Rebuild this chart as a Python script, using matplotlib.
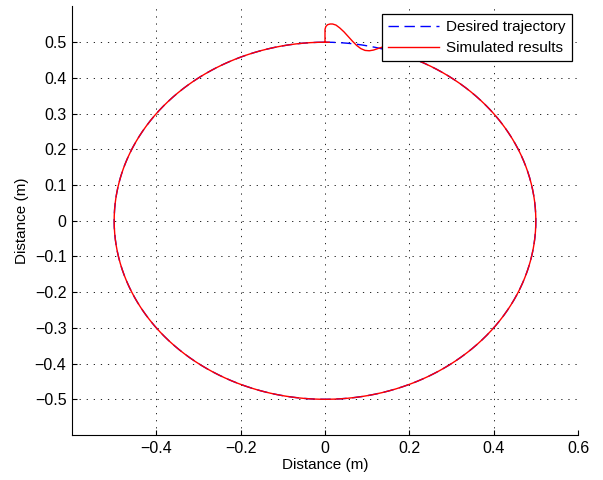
import numpy as np
import matplotlib
matplotlib.use("Agg")
import matplotlib.pyplot as plt

plt.rcParams['font.family'] = ['Liberation Sans', 'DejaVu Sans']
plt.rcParams['font.size'] = 11

# Desired trajectory: circle centred at origin
radius = 0.5
center_x, center_y = 0.0, 0.0

# Start-up transient of the simulated path (x, y in m)
trans_x = [0.0, 0.0, 0.002, 0.006, 0.012, 0.018, 0.026, 0.035, 0.045, 0.055,
           0.065, 0.075, 0.085, 0.095, 0.105, 0.115, 0.125, 0.135, 0.145,
           0.160, 0.180, 0.200, 0.222]
trans_y = [0.500, 0.536, 0.544, 0.549, 0.551, 0.551, 0.548, 0.540, 0.529, 0.516,
           0.503, 0.491, 0.482, 0.477, 0.476, 0.478, 0.482, 0.486, 0.488,
           0.487, 0.479, 0.464, 0.448]

xticks = [-0.4, -0.2, 0, 0.2, 0.4, 0.6]
yticks = [-0.5, -0.4, -0.3, -0.2, -0.1, 0, 0.1, 0.2, 0.3, 0.4, 0.5]

# desired circle (clockwise from the top)
th = np.linspace(0, 2 * np.pi, 721)
des_x = center_x + radius * np.sin(th)
des_y = center_y + radius * np.cos(th)

# simulated: transient then it follows the circle back to the top
th0 = np.arcsin(trans_x[-1] / radius)
th_rest = np.linspace(th0, 2 * np.pi + 0.02, 700)
sim_x = np.concatenate([trans_x, center_x + radius * np.sin(th_rest)])
sim_y = np.concatenate([trans_y, center_y + radius * np.cos(th_rest)])

fig = plt.figure(figsize=(6.03, 4.8), dpi=100)
ax = fig.add_axes([72 / 603, 45 / 480, 506 / 603, 428.5 / 480])

ax.plot(des_x, des_y, color='#0000ff', linestyle=(0, (7.5, 4)), linewidth=1.0,
        label='Desired trajectory')
ax.plot(sim_x, sim_y, color='#ff0000', linewidth=1.0, label='Simulated results')

ax.set_xlim(-0.6, 0.6)
ax.set_ylim(-0.6, 0.6)
ax.set_xticks(xticks)
ax.set_yticks(yticks)
ax.set_xticklabels([f"{v:g}".replace('-', '\u2212') for v in xticks])
ax.set_yticklabels([f"{v:g}".replace('-', '\u2212') for v in yticks])

ax.grid(True, color='black', linestyle=(0, (1.5, 7)), linewidth=0.6)
ax.set_axisbelow(True)
ax.spines['top'].set_visible(False)
ax.spines['right'].set_visible(False)
for s in ['left', 'bottom']:
    ax.spines[s].set_linewidth(0.8)
ax.tick_params(direction='in', length=3.5, width=0.8, labelsize=11.5, pad=4)

ax.set_xlabel('Distance (m)', fontsize=11, labelpad=2)
ax.set_ylabel('Distance (m)', fontsize=11, labelpad=4)

leg = ax.legend(loc='upper right', bbox_to_anchor=(0.988, 0.9825),
                borderaxespad=0, fancybox=False, framealpha=1,
                edgecolor='black', handlelength=3.3, handletextpad=0.5,
                labelspacing=0.45, borderpad=0.4, fontsize=11)
leg.get_frame().set_linewidth(0.9)

fig.savefig('out.png', dpi=100)
